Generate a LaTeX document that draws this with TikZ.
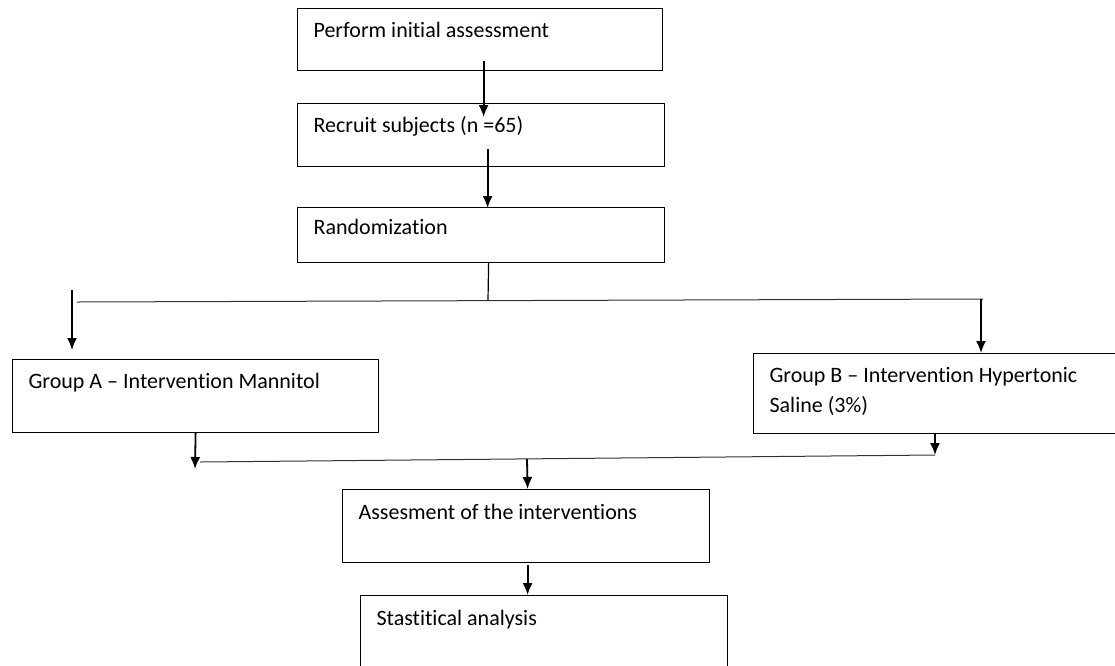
\documentclass[tikz,border=0pt]{standalone}
\usepackage{fontspec}
\setmainfont{Carlito}[Ligatures={TeX,NoCommon}]
\usetikzlibrary{arrows.meta, positioning, calc}

\begin{document}
\begin{tikzpicture}[x=1pt, y=-1pt, >={Latex[length=12pt,width=10pt]}, line width=1.2pt,
    stage/.style={draw, rectangle, anchor=north west, inner xsep=16pt, inner ysep=0pt,
        text height=29pt, align=flush left, font=\fontsize{22}{30}\selectfont},
    flow/.style={->, line width=1.8pt},
    link/.style={line width=1pt, black!80}]

    \useasboundingbox (0,0) rectangle (1115,665);

    % ================= Boxes =================
    \node[stage, text width=333pt, text depth=33pt] (assess) at (297,8) {Perform initial assessment};
    \node[stage, text width=335pt, text depth=34pt] (recruit) at (297,103) {Recruit subjects (n =65)};
    \node[stage, text width=335pt, text height=27pt, text depth=28pt] (random) at (297,207) {Randomization};
    \node[stage, text width=334pt, text depth=44pt] (groupA) at (12,359) {Group A \textendash{} Intervention Mannitol};
    \node[stage, text width=338pt, text depth=51pt] (groupB) at (753,353) {Group B \textendash{} Intervention Hypertonic\\Saline (3\%)};
    \node[stage, text width=335pt, text height=30pt, text depth=43pt] (evalint) at (342,489) {Assesment of the interventions};
    \node[stage, text width=335pt, text height=30pt, text depth=52pt] (stats) at (360,595) {Stastitical analysis};

    % ================= Split and merge points =================
    \coordinate (split) at (488,300);
    \coordinate (splitL) at (77,302);
    \coordinate (splitR) at (983,299);
    \coordinate (dropL) at (72,290);
    \coordinate (dropR) at (981,299);
    \coordinate (mergeL) at (200,462);
    \coordinate (mergeR) at (935,455);
    \coordinate (tipA) at (195,469);
    \coordinate (merge) at (527,459);

    % ================= Top chain =================
    \draw[flow] ([xshift=3.5pt,yshift=10pt]assess.south) -- ([xshift=2.5pt,yshift=-14pt]recruit.north);
    \draw[flow] ([xshift=6.5pt,yshift=18pt]recruit.south) -- ([xshift=6.5pt,yshift=-1pt]random.north);

    % ================= Randomization split =================
    \draw ([xshift=7.5pt]random.south) -- (split);
    \draw[link] (splitL) -- (splitR);
    \draw[flow] (dropL) -- ([xshift=60pt,yshift=9pt]groupA.north west);
    \draw[flow] (dropR) -- ([xshift=228pt]groupB.north west);

    % ================= Merge of the groups =================
    \draw[flow] (groupA.south) -- (tipA);
    \draw[link] (mergeL) -- (mergeR);
    \draw[flow] ([xshift=182pt]groupB.south west) -- (mergeR);
    \draw[flow] (merge) -- ([xshift=1.5pt]evalint.north);
    \draw[flow] ([xshift=1.5pt,yshift=-2pt]evalint.south) -- ([xshift=-16.5pt]stats.north);

\end{tikzpicture}
\end{document}
